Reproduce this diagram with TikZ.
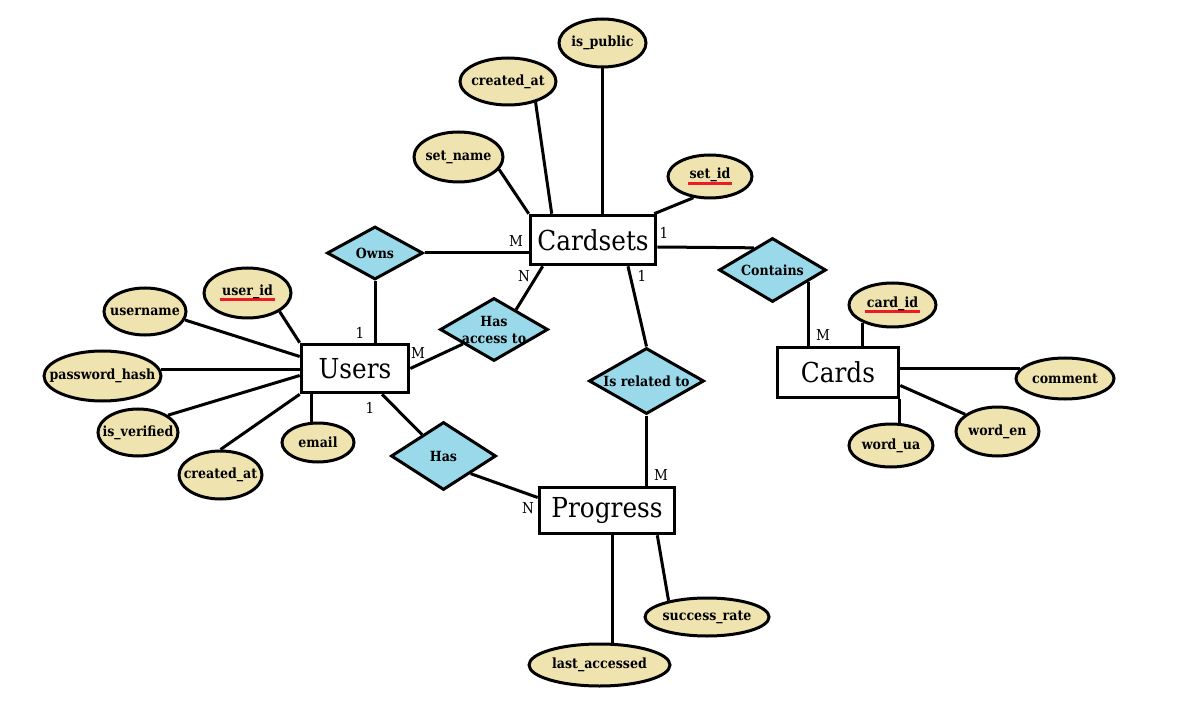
\documentclass[tikz,border=0pt]{standalone}
\usepackage{fontspec}
\usetikzlibrary{shapes.geometric}
\newfontfamily\djs{DejaVu Serif}[FakeStretch=0.9]
\definecolor{attrfill}{RGB}{239,228,176}
\definecolor{relfill}{RGB}{153,217,234}
\definecolor{ulred}{RGB}{237,28,36}
\newcommand\attrfont{\djs\fontsize{14}{17}\selectfont\bfseries}
\newcommand\entfont{\djs\fontsize{27.5}{30}\selectfont}
\newcommand\cardfont{\djs\fontsize{15}{17}\selectfont}
\newcommand\redul[1]{\setbox0\hbox{#1}\rlap{\hskip-2pt\color{ulred}\rule[-5.8pt]{\dimexpr\wd0+4pt\relax}{2.8pt}}\box0}
\begin{document}
\begin{tikzpicture}[x=1pt,y=-1pt,
  ent/.style={draw, rectangle, line width=3.6pt, fill=white, inner sep=0pt, font=\entfont},
  rel/.style={draw, diamond, line width=3pt, fill=relfill, inner sep=0pt},
  attr/.style={draw, ellipse, line width=3pt, fill=attrfill, inner sep=0pt},
  conn/.style={line width=3pt},
  card/.style={inner sep=0pt, font=\cardfont},
  every label/.style={font=\attrfont, inner sep=0pt, align=center}]
\useasboundingbox[fill=white] (0,0) rectangle (1199,708);

% entities
\node[ent, minimum width=125pt, minimum height=49pt] (cs) at (593,240) {Cardsets};
\node[ent, minimum width=107pt, minimum height=48pt] (users) at (355,368.5) {Users};
\node[ent, minimum width=135pt, minimum height=46pt] (prog) at (607,510.5) {Progress};
\node[ent, minimum width=121pt, minimum height=50pt] (cards) at (838,372.5) {Cards};

% relationships
\node[rel, minimum width=96pt, minimum height=53pt, label=center:Owns] (owns) at (375,253) {};
\node[rel, minimum width=108pt, minimum height=63pt, label={center:Has\\access to}] (hat) at (494,329.5) {};
\node[rel, minimum width=115pt, minimum height=66pt, label=center:Is related to] (irt) at (646.5,381) {};
\node[rel, minimum width=105pt, minimum height=68pt, label=center:Has] (has) at (443.5,456) {};
\node[rel, minimum width=107pt, minimum height=64pt, label=center:Contains] (contains) at (772.5,270) {};

% attributes
\node[attr, minimum width=87pt, minimum height=48pt, label=center:is\_public] (ispublic) at (602.5,43) {};
\node[attr, minimum width=96pt, minimum height=47pt, label=center:created\_at] (cat) at (508,81.5) {};
\node[attr, minimum width=89pt, minimum height=50pt, label=center:set\_name] (setname) at (458.5,157) {};
\node[attr, minimum width=84pt, minimum height=43pt, label={center:\redul{set\_id}}] (setid) at (710,176.5) {};
\node[attr, minimum width=87pt, minimum height=50pt, label={center:\redul{user\_id}}] (userid) at (247.5,293) {};
\node[attr, minimum width=82pt, minimum height=47pt, label=center:username] (username) at (145,311.5) {};
\node[attr, minimum width=117pt, minimum height=50pt, label=center:password\_hash] (pwd) at (102.5,376) {};
\node[attr, minimum width=80pt, minimum height=47pt, label=center:is\_verified] (isver) at (138,432.5) {};
\node[attr, minimum width=83pt, minimum height=48pt, label=center:created\_at] (cau) at (220.5,475) {};
\node[attr, minimum width=72pt, minimum height=39pt, label=center:email] (email) at (318,442.5) {};
\node[attr, minimum width=87pt, minimum height=44pt, label={center:\redul{card\_id}}] (cardid) at (892.5,305) {};
\node[attr, minimum width=98pt, minimum height=41pt, label=center:comment] (comment) at (1065,378.5) {};
\node[attr, minimum width=83pt, minimum height=49pt, label=center:word\_en] (worden) at (997.5,431.5) {};
\node[attr, minimum width=84pt, minimum height=43pt, label=center:word\_ua] (wordua) at (891,445.5) {};
\node[attr, minimum width=124pt, minimum height=38pt, label=center:success\_rate] (srate) at (707,617) {};
\node[attr, minimum width=141pt, minimum height=42pt, label=center:last\_accessed] (lacc) at (599.5,665) {};

% cardinalities
\node[card] (cM1) at (516,241) {M};
\node[card] (cN1) at (524,276) {N};
\node[card] (c11) at (664,233) {1};
\node[card] (c12) at (642,276) {1};
\node[card] (c13) at (360,333) {1};
\node[card] (cM2) at (418,353) {M};
\node[card] (c14) at (370,408) {1};
\node[card] (cM3) at (661,475) {M};
\node[card] (cN2) at (528,508) {N};
\node[card] (cM4) at (823,335) {M};

% connectors
\draw[conn] (setname.-17) -- (cs.north west);
\draw[conn] (cat.-37) -- ([xshift=23pt]cs.north west);
\draw[conn] (ispublic.south) -- (ispublic.south |- cs.north);
\draw[conn] (setid.232) -- ([xshift=-3pt]cs.north east);
\draw[conn] ([yshift=-7pt]cs.east) -- (contains.130);
\draw[conn] ([xshift=14pt]cs.south west) -- (hat.42);
\draw[conn] ([xshift=35pt]cs.south) -- (irt.north);
\draw[conn] (owns.east) -- (owns.east -| cs.west);
\draw[conn] (owns.south) -- (owns.south |- users.north);
\draw[conn] (users.east) -- (hat.205);
\draw[conn] ([xshift=27pt]users.south) -- (has.135);
\draw[conn] (has.-33) -- ([yshift=13pt]prog.west);
\draw[conn] (irt.south) -- (irt.south |- prog.north);
\draw[conn] (contains.-18) -- (contains.-18 |- cards.north);
\draw[conn] (cardid.-149) -- (cardid.-149 |- cards.north);
\draw[conn] (comment.167) -- (comment.167 -| cards.east);
\draw[conn] ([yshift=-13pt]cards.east) -- (worden.152);
\draw[conn] (wordua.70) -- (wordua.70 |- cards.south);
\draw[conn] (userid.-30) -- (users.north west);
\draw[conn] (username.-12) -- ([yshift=12pt]users.west);
\draw[conn] (pwd.6) -- (pwd.6 -| users.west);
\draw[conn] (isver.30) -- ([yshift=-7pt]users.west);
\draw[conn] (cau.north) -- (users.south west);
\draw[conn] (email.107) -- (email.107 |- users.south);
\draw[conn] (lacc.60) -- (lacc.60 |- prog.south);
\draw[conn] ([xshift=-19pt]prog.south east) -- (srate.157);
\end{tikzpicture}
\end{document}
